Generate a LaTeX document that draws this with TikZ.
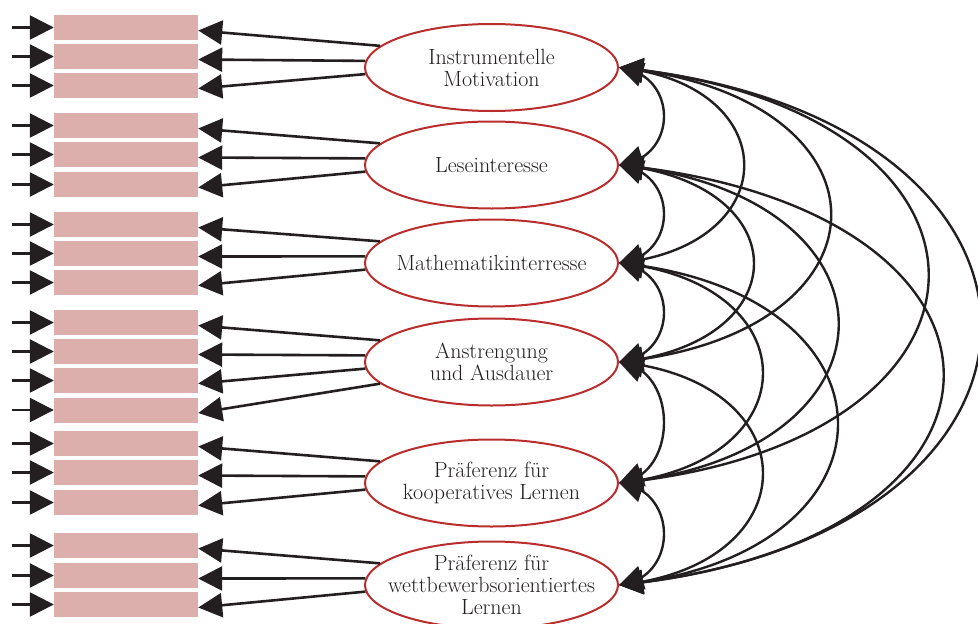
\documentclass[tikz,border=0pt]{standalone}
\usepackage{fontspec}
\usetikzlibrary{arrows.meta,bending,shapes.geometric,calc}
\definecolor{ink}{RGB}{35,31,32}
\definecolor{boxfill}{RGB}{220,175,173}
\definecolor{ellred}{RGB}{185,45,45}
\begin{document}
\begin{tikzpicture}[x=1pt,y=-1pt,
  ind/.style={fill=boxfill, draw=none, minimum width=144pt, minimum height=25pt, inner sep=0pt},
  lat/.style={ellipse, draw=ellred, line width=2pt, fill=white, minimum width=253pt, minimum height=87pt, inner sep=0pt},
  lattext/.style={align=center, text=ink, inner sep=0pt, font=\fontsize{22}{22}\selectfont},
  load/.style={draw=ink, line width=2.6pt, -{Triangle[length=24pt,width=24pt]}},
  cov/.style={draw=ink, line width=2.4pt, {Triangle[length=24pt,width=24pt,flex]}-{Triangle[length=24pt,width=24pt,flex]}}]
\path[use as bounding box] (0,0) rectangle (978,624);
\clip (0,0) rectangle (978,624);

% indicator boxes with residual arrows
\foreach \y [count=\i] in {27.5,56.5,85.5,125.5,154.5,184.5,224.5,253.5,282.5,322.5,351.5,380.5,410,443.5,472.5,502.5,545.5,575.5,604.5} {
  \node[ind] (b\i) at (126,\y) {};
  \coordinate (s\i) at (12,\y);
  \draw[load] (s\i) -- (b\i.west);
}

% latent variables
\node[lat] (e1) at (491.5,67.5) {};
\node[lat] (e2) at (491.5,165) {};
\node[lat] (e3) at (491.5,263) {};
\node[lat] (e4) at (491.5,362) {};
\node[lat] (e5) at (491.5,483) {};
\node[lat] (e6) at (491.5,585) {};
\node[lattext] (t1) at (e1) {Instrumentelle\\Motivation};
\node[lattext] (t2) at (e2) {Leseinteresse};
\node[lattext] (t3) at (e3) {Mathematikinterresse};
\node[lattext] (t4) at (e4) {Anstrengung\\und Ausdauer};
\node[lattext] (t5) at (e5) {Präferenz für\\kooperatives Lernen};
\node[lattext] (t6) at (e6) {Präferenz für\\wettbewerbsorientiertes\\Lernen};

% loadings
\foreach \e/\b/\ang in {1/1/169,1/2/177,1/3/183,
                        2/4/169,2/5/177,2/6/183,
                        3/7/169,3/8/177,3/9/183,
                        4/10/169,4/11/177,4/12/183,4/13/191,
                        5/14/169,5/15/177,5/16/183,
                        6/17/169,6/18/177,6/19/183} {
  \draw[load] (e\e.\ang) -- ([yshift=-3pt]b\b.east);
}

% covariances
\foreach \i/\j/\a in {1/2/60,2/3/60,3/4/60,4/5/60,5/6/60,
                      1/3/167,2/4/180,3/5/192,4/6/192,
                      1/4/283,2/5/293,3/6/292,
                      1/5/413,2/6/433,
                      1/6/483} {
  \draw[cov] (e\i.east) .. controls ($(e\i.east)+(\a,0.1*\a)$) and ($(e\j.east)+(\a,-0.1*\a)$) .. (e\j.east);
}
\end{tikzpicture}
\end{document}
